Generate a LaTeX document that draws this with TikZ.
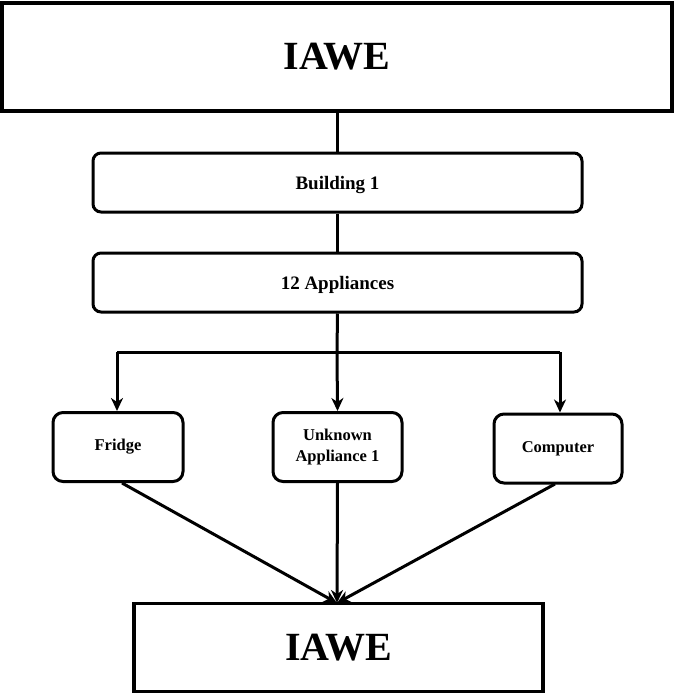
\documentclass[tikz,border=0pt]{standalone}
\usepackage{fontspec}
\setmainfont{Liberation Serif}
\usetikzlibrary{arrows.meta}
\begin{document}
\begin{tikzpicture}[x=1pt,y=-1pt,
  sqbox/.style={draw,line width=3.2pt,rectangle,inner sep=0pt,font=\bfseries\fontsize{40}{44}\selectfont},
  rbox/.style={draw,line width=3pt,rectangle,rounded corners=8pt,inner sep=0pt,text depth=0pt,font=\bfseries\fontsize{19}{22}\selectfont},
  abox/.style={draw,line width=3pt,rectangle,rounded corners=10pt,inner sep=0pt,align=center,font=\bfseries\fontsize{16.5}{21}\selectfont},
  conn/.style={line width=3pt},
  arr/.style={line width=3pt,-{Stealth[length=13pt,width=12pt,inset=4pt]}}]
\useasboundingbox (0,0) rectangle (674,694);
\node[sqbox,minimum width=670pt,minimum height=108pt] (top) at (337,57) {IAWE};
\node[rbox,minimum width=489pt,minimum height=59pt] (b1) at (337.5,182.5) {Building 1};
\node[rbox,minimum width=489pt,minimum height=59pt] (app) at (337.5,282.5) {12 Appliances};
\node[abox,minimum width=130pt,minimum height=69pt] (fr) at (118,447) {Fridge};
\node[abox,minimum width=129pt,minimum height=69pt] (un) at (337.5,447) {Unknown\\Appliance 1};
\node[abox,minimum width=128pt,minimum height=69pt] (co) at (558,448.5) {Computer};
\node[sqbox,minimum width=409pt,minimum height=88pt] (bot) at (338.5,647.5) {IAWE};
\coordinate (split) at (337,352);
\coordinate (left) at (117,352);
\coordinate (right) at (560,352);
\coordinate (sink) at (337,603);
\draw[conn] (top.south -| b1) -- (b1.north);
\draw[conn] (b1.south) -- (app.north);
\draw[conn] (app.south) -- (split);
\draw[conn] (left) -- (right);
\draw[arr] (left) -- (left |- fr.north);
\draw[arr] (split) -- (un.north);
\draw[arr] (right) -- (right |- co.north);
\draw[arr] (122,483) -- (sink);
\draw[arr] (un.south) -- (sink);
\draw[arr] (555,484) -- (sink);
\end{tikzpicture}
\end{document}
